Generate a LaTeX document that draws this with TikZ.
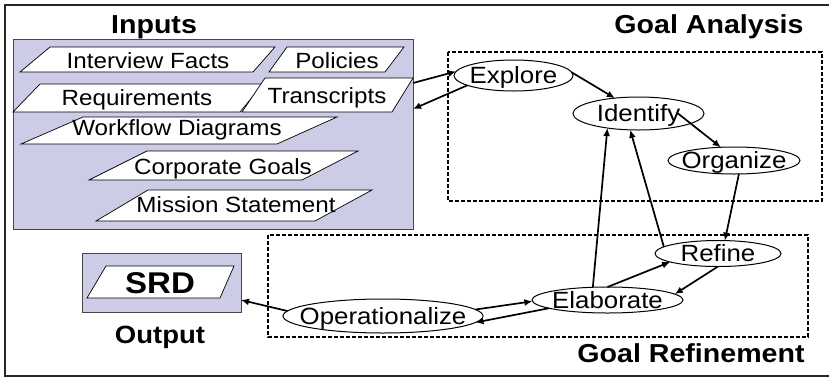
\documentclass[tikz,border=0pt]{standalone}
\usepackage{fontspec}
\setmainfont{Liberation Sans}[FakeStretch=1.1]
\usetikzlibrary{shapes.geometric,arrows.meta,calc}
\definecolor{lav}{RGB}{204,204,230}
\definecolor{boxline}{RGB}{70,70,70}

\begin{document}
\begin{tikzpicture}[x=1pt,y=-1pt,
  every node/.style={inner sep=0pt, outer sep=0pt},
  inbox/.style={rectangle, draw=boxline, fill=lav, line width=1pt},
  para/.style={draw=black, fill=white, line width=0.7pt, line join=miter},
  ptext/.style={font=\fontsize{22}{24}\selectfont, anchor=base},
  title/.style={font=\fontsize{26}{28}\selectfont\bfseries, anchor=base},
  area/.style={draw=black, dash pattern=on 4pt off 2pt, line width=1.2pt},
  act/.style={ellipse, draw=black, fill=white, line width=1pt,
    inner xsep=-60pt, inner ysep=-30pt,
    font=\fontsize{23.5}{25}\selectfont, text height=16.8pt, text depth=0pt},
  flow/.style={line width=1.7pt, -{Latex[length=8pt,width=7pt]}},
]
\useasboundingbox (0,0) rectangle (829,378);

% outer frame
\draw[line width=1.6pt, draw=black!85] (5,5) rectangle (840,376);

% titles
\node[title] (tInputs) at (154,33) {Inputs};
\node[title] (tAnalysis) at (709,33) {Goal Analysis};
\node[title] (tRefinement) at (691,362) {Goal Refinement};
\node[font=\fontsize{25}{27}\selectfont\bfseries, anchor=base] (tOutput) at (160,343) {Output};

% input documents
\node[inbox, minimum width=400pt, minimum height=190pt] (inputs) at (213,134) {};
\draw[para] (50,47) -- (275,47) -- (253,72) -- (20,72) -- cycle;
\node[ptext] (interview) at (148,68) {Interview Facts};
\draw[para] (287,47) -- (404,47) -- (385,72) -- (269,72) -- cycle;
\node[ptext] (policies) at (337,68) {Policies};
\draw[para] (40,84) -- (263,84) -- (240,112) -- (13,112) -- cycle;
\node[ptext] (requirements) at (137,105) {Requirements};
\draw[para] (265,78) -- (413,78) -- (392,112) -- (242,112) -- cycle;
\node[ptext] (transcripts) at (327,103) {Transcripts};
\draw[para] (83,117) -- (337,117) -- (277,144) -- (21,144) -- cycle;
\node[ptext] (workflow) at (177,135) {Workflow Diagrams};
\draw[para] (147,151) -- (358,151) -- (302,180) -- (89,180) -- cycle;
\node[ptext] (corporate) at (223,174) {Corporate Goals};
\draw[para] (148,190) -- (372,190) -- (315,221) -- (96,221) -- cycle;
\node[ptext] (mission) at (236,212) {Mission Statement};

% output document
\node[inbox, minimum width=159pt, minimum height=59pt] (srdbox) at (161.5,282.5) {};
\draw[para] (106,266) -- (234,266) -- (220,298) -- (87,298) -- cycle;
\node[font=\fontsize{30}{32}\selectfont\bfseries, anchor=base] (srd) at (160,293) {SRD};

% phase areas
\draw[area] (448,52) rectangle (822,201);
\draw[area] (268,235) rectangle (808,337);

% activities
\node[act, minimum width=119pt, minimum height=31pt] (explore) at (513.5,75.5) {Explore};
\node[act, minimum width=131pt, minimum height=33pt] (identify) at (638.5,113.5) {Identify};
\node[act, minimum width=132pt, minimum height=27pt] (organize) at (734,160.5) {Organize};
\node[act, minimum width=126pt, minimum height=26pt] (refine) at (718,253.5) {Refine};
\node[act, minimum width=151pt, minimum height=26pt] (elaborate) at (607.5,300) {Elaborate};
\node[act, minimum width=200pt, minimum height=34pt] (oper) at (383,316) {Operationalize};

% connectors
\coordinate (yA) at (0,83);
\coordinate (yB) at (0,109);
\coordinate (yS) at (0,300);
\draw[flow] (inputs.east |- yA) -- (explore.176);
\draw[flow] (explore.192) -- (inputs.east |- yB);
\draw[flow] (explore.3) -- (identify.147);
\draw[flow] ($(identify.center)+(39.5,0)$) -- (organize.135);
\draw[flow] (organize.290) -- (refine.62);
\draw[flow] (refine.173) -- (identify.243);
\draw[flow] (elaborate.139) -- (identify.205);
\draw[flow] (elaborate.90) -- (refine.190);
\draw[flow] (refine.270) -- (elaborate.5);
\draw[flow] (oper.4) -- (elaborate.181);
\draw[flow] (elaborate.188) -- (oper.356);
\draw[flow] (oper.177) -- (srdbox.east |- yS);
\end{tikzpicture}
\end{document}
